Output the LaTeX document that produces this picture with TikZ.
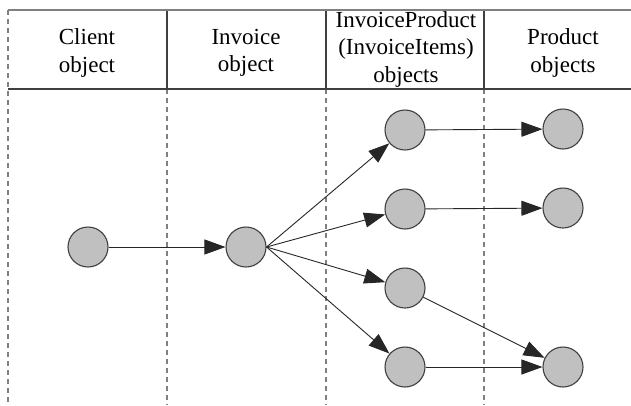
\documentclass[tikz,border=0pt]{standalone}
\usepackage{fontspec}
\setmainfont{Liberation Serif}
\usetikzlibrary{arrows.meta}
\definecolor{objfill}{HTML}{C0C0C0}
\definecolor{objline}{HTML}{404040}
\definecolor{laneline}{HTML}{808080}
\tikzset{>={Triangle[length=21pt,width=15pt]}}
\begin{document}
\begin{tikzpicture}[x=1pt,y=-1pt]
  \useasboundingbox (0,0) rectangle (631,405);

  % lanes
  \draw[laneline,line width=1.7pt,dash pattern=on 5pt off 4pt] (8,10) -- (8,405);
  \foreach \x in {167,326,484} {
    \draw[objline,line width=1.4pt] (\x,10) -- (\x,89);
    \draw[laneline,line width=1.7pt,dash pattern=on 5pt off 4pt] (\x,89) -- (\x,405);
  }
  \draw[gray,line width=1.6pt] (8,10) -- (631,10);
  \draw[objline,line width=1.4pt] (8,89) -- (631,89);

  \begin{scope}[every node/.style={align=center,font=\fontsize{23}{27.5}\selectfont}]
    \node (h1) at (87,53)  {Client\\object};
    \node (h2) at (246,53) {Invoice\\object};
    \node (h3) at (406,49) {InvoiceProduct\\(InvoiceItems)\\objects};
    \node (h4) at (563,53) {Product\\objects};
  \end{scope}

  \begin{scope}[every node/.style={circle,draw=objline,fill=objfill,line width=1.1pt,minimum size=40pt,inner sep=0pt}]
    \node (client)  at (88,247)  {};
    \node (invoice) at (246,247) {};
    \node (ip1)     at (405,130) {};
    \node (ip2)     at (405,209) {};
    \node (ip3)     at (405,288) {};
    \node (ip4)     at (405,367) {};
    \node (p1)      at (563,129) {};
    \node (p2)      at (563,208) {};
    \node (p3)      at (563,367) {};
  \end{scope}

  \begin{scope}[every edge/.style={draw=black!85,line width=0.9pt,->}]
    \path (client) edge (invoice);
    \path (invoice.east) edge (ip1);
    \path (invoice.east) edge (ip2);
    \path (invoice.east) edge (ip3);
    \path (invoice.east) edge (ip4);
    \path (ip1) edge (p1);
    \path (ip2) edge (p2);
    \path (ip3) edge (p3);
    \path (ip4) edge (p3);
  \end{scope}

\end{tikzpicture}
\end{document}
